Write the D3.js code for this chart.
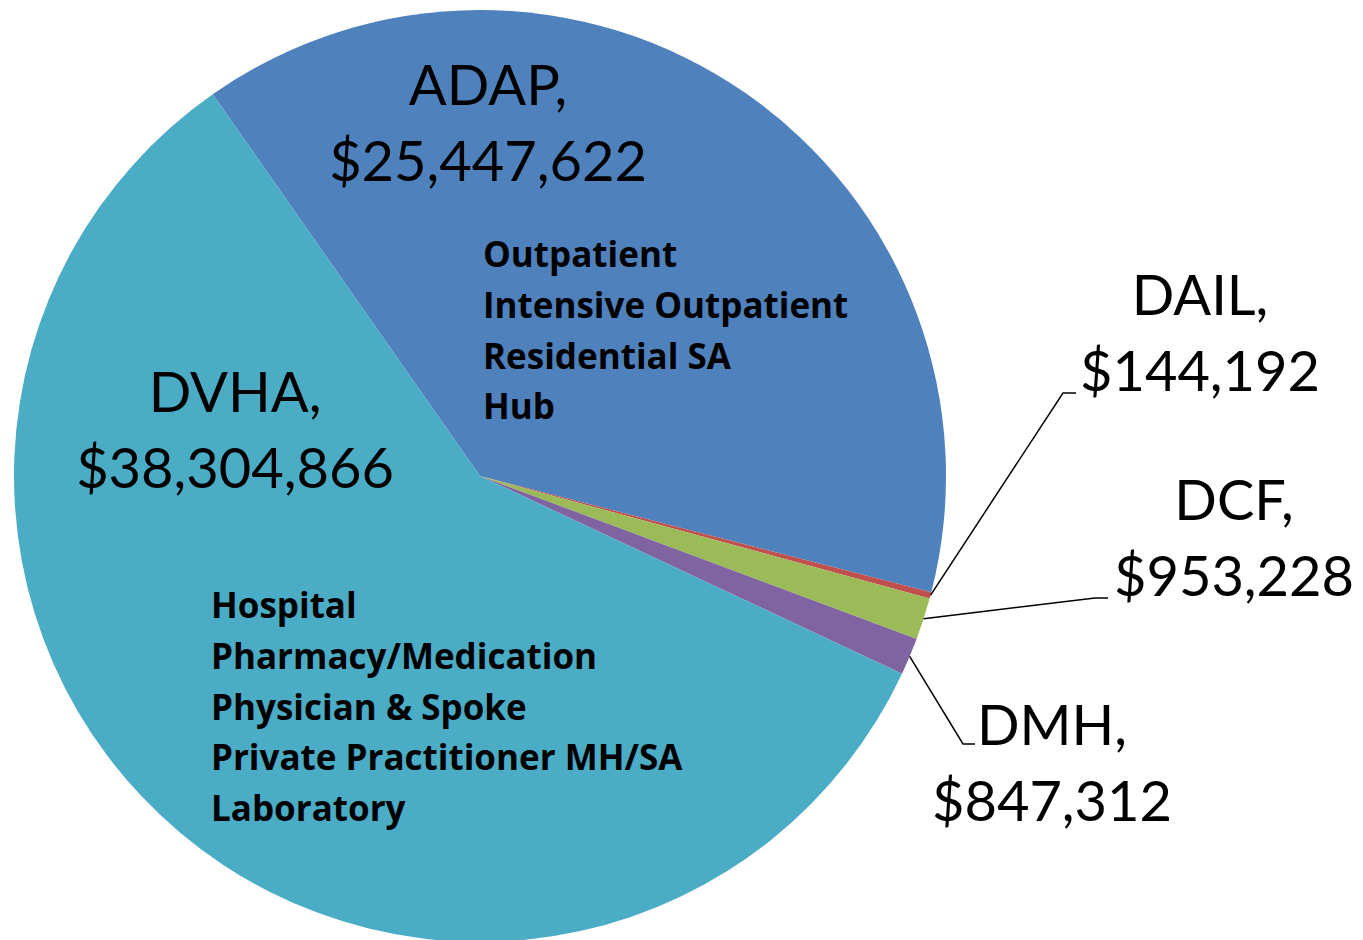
<!DOCTYPE html>
<html>
  <head>
    <meta charset="utf-8">
    <title>Spending by department</title>
    <script type="text/javascript" src="https://cdn.jsdelivr.net/npm/d3@7"></script>
    <style>
      body { margin: 0; background: #fff; }
      text { font-family: Lato, "Open Sans", sans-serif; fill: #000; }
      text.svc { font-family: "Open Sans", Lato, sans-serif; }
    </style>
  </head>
  <body>
    <script type="text/javascript">
      // data
      var depts = ["ADAP", "DAIL", "DCF", "DMH", "DVHA"];
      var amounts = [25447622, 144192, 953228, 847312, 38304866];
      var colors = ["#4F81BD", "#C0504D", "#9BBB59", "#8064A2", "#4BACC6"];
      var adapServices = ["Outpatient", "Intensive Outpatient", "Residential SA", "Hub"];
      var dvhaServices = ["Hospital", "Pharmacy/Medication", "Physician & Spoke",
                          "Private Practitioner MH/SA", "Laboratory"];

      var w = 1363
      var h = 940
      var cx = 480, cy = 476, r = 466;
      var start = -35 * Math.PI / 180;

      // where each label sits (centre x, first baseline) and its leader elbow
      var labelPos = {
        ADAP: {x: 488, y: 105},
        DAIL: {x: 1200, y: 315, elbow: [1063, 393], end: 1076},
        DCF:  {x: 1234, y: 520, elbow: [1095, 598], end: 1108},
        DMH:  {x: 1052, y: 745, elbow: [963, 744], end: 975},
        DVHA: {x: 235, y: 412}
      };

      var svg = d3.select("body").append("svg");
      svg.attr("width", w)
         .attr("height", h);

      var g = svg.append("g").attr("transform", "translate(" + cx + "," + cy + ")");

      var pie = d3.pie().sort(null).value(function(d) { return d.value; })
                  .startAngle(start).endAngle(start + 2 * Math.PI);
      var arc = d3.arc().innerRadius(0).outerRadius(r);

      var rows = depts.map(function(d, i) {
        return {name: d, value: amounts[i], color: colors[i]};
      });
      var slices = pie(rows);

      g.selectAll("path")
       .data(slices)
       .enter()
       .append("path")
       .attr("d", arc)
       .attr("fill", function(d) { return d.data.color; });

      // leader lines for the thin slices
      slices.forEach(function(s) {
        var p = labelPos[s.data.name];
        if (!p.elbow) return;
        var a = (s.startAngle + s.endAngle) / 2;
        var x0 = cx + r * Math.sin(a), y0 = cy - r * Math.cos(a);
        svg.append("polyline")
           .attr("points", [[x0, y0], p.elbow, [p.end, p.elbow[1]]].join(" "))
           .attr("fill", "none")
           .attr("stroke", "#000")
           .attr("stroke-width", 1.5);
      });

      var money = d3.format("$,");
      slices.forEach(function(s) {
        var p = labelPos[s.data.name];
        var t = svg.append("text")
                   .attr("text-anchor", "middle")
                   .attr("font-size", 56);
        t.append("tspan").attr("x", p.x).attr("y", p.y).text(s.data.name + ",");
        t.append("tspan").attr("x", p.x).attr("y", p.y + 76).text(money(s.data.value));
      });

      // service lists inside the two big slices
      function list(items, x, y) {
        svg.append("g").selectAll("text")
           .data(items)
           .enter()
           .append("text")
           .attr("class", "svc")
           .attr("x", x)
           .attr("y", function(d, i) { return y + i * 50.8; })
           .attr("font-size", 35)
           .attr("font-weight", "bold")
           .text(function(d) { return d; });
      }
      list(adapServices, 483, 267);
      list(dvhaServices, 211, 618);
    </script>
  </body>
</html>
